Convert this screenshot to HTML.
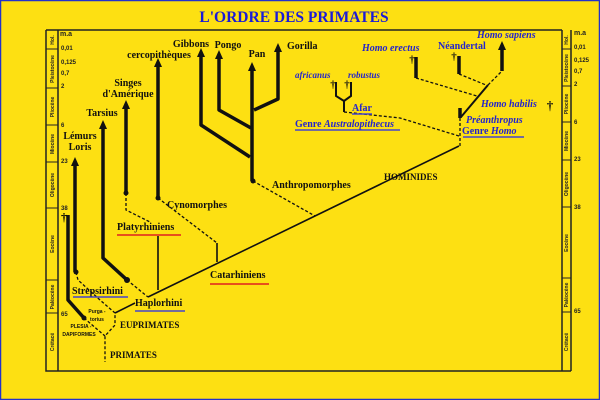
<!DOCTYPE html>
<html><head><meta charset="utf-8"><style>
html,body{margin:0;padding:0;background:#fde012;}
svg{display:block}
</style></head><body>
<svg width="600" height="400" viewBox="0 0 600 400" xmlns="http://www.w3.org/2000/svg" font-family="Liberation Serif, serif">
<rect x="0.5" y="0.5" width="599" height="399" fill="#fde012" stroke="#2233cc" stroke-width="1.5"/>
<text x="294" y="22" text-anchor="middle" font-size="15.5" font-weight="bold" fill="#1a1ad8">L'ORDRE DES PRIMATES</text>
<g stroke="#222" fill="none">
<path d="M46 30 H562 M46 30 V371 H571 M58 30 V371 M562 30 V371 M571 30 V371" stroke-width="1.5"/>
</g>
<g stroke="#222" stroke-width="1">
<path d="M46 49 H58 M46 88 H58 M46 125 H58 M46 162 H58 M46 208 H58 M46 280 H58 M46 313 H58"/>
<path d="M562 49 H571 M562 86 H571 M562 122 H571 M562 160 H571 M562 207 H571 M562 278 H571 M562 312 H571"/>
</g>
<g font-family="Liberation Sans, sans-serif" font-size="5" font-weight="bold" fill="#222">
<text transform="translate(54,40) rotate(-90)" text-anchor="middle">Hol.</text>
<text transform="translate(54,69) rotate(-90)" text-anchor="middle">Pleistocène</text>
<text transform="translate(54,107) rotate(-90)" text-anchor="middle">Pliocène</text>
<text transform="translate(54,144) rotate(-90)" text-anchor="middle">Miocène</text>
<text transform="translate(54,185) rotate(-90)" text-anchor="middle">Oligocène</text>
<text transform="translate(54,244) rotate(-90)" text-anchor="middle">Eocène</text>
<text transform="translate(54,297) rotate(-90)" text-anchor="middle">Paléocène</text>
<text transform="translate(54,342) rotate(-90)" text-anchor="middle">Crétacé</text>
<text transform="translate(568,40) rotate(-90)" text-anchor="middle">Hol.</text>
<text transform="translate(568,68) rotate(-90)" text-anchor="middle">Pleistocène</text>
<text transform="translate(568,104) rotate(-90)" text-anchor="middle">Pliocène</text>
<text transform="translate(568,141) rotate(-90)" text-anchor="middle">Miocène</text>
<text transform="translate(568,184) rotate(-90)" text-anchor="middle">Oligocène</text>
<text transform="translate(568,243) rotate(-90)" text-anchor="middle">Eocène</text>
<text transform="translate(568,295) rotate(-90)" text-anchor="middle">Paléocène</text>
<text transform="translate(568,342) rotate(-90)" text-anchor="middle">Crétacé</text>
</g>
<g font-family="Liberation Sans, sans-serif" font-size="6" font-weight="bold" fill="#222">
<text x="60" y="36" font-size="7">m.a</text>
<text x="61" y="50">0,01</text><text x="61" y="64">0,125</text><text x="61" y="75">0,7</text><text x="61" y="88">2</text>
<text x="61" y="127">6</text><text x="61" y="163">23</text><text x="61" y="210">38</text><text x="61" y="316">65</text>
<text x="574" y="35" font-size="7">m.a</text>
<text x="574" y="49">0,01</text><text x="574" y="62">0,125</text><text x="574" y="73">0,7</text><text x="574" y="86">2</text>
<text x="574" y="124">6</text><text x="574" y="161">23</text><text x="574" y="209">38</text><text x="574" y="313">65</text>
</g>
<g stroke="#111" stroke-width="3.5" fill="none" stroke-linejoin="round">
<path d="M75 164 V272"/>
<path d="M103 127 V258 L127 280"/>
<path d="M126 107 V193"/>
<path d="M158 65 V198"/>
<path d="M201 55 V125 L250 157"/>
<path d="M219 57 V110 L251 128"/>
<path d="M252 69 V181"/>
<path d="M278 50 V99 L254 110"/>
<path d="M68 215 V300 L84 318"/>
<path d="M502 48 V71"/>
<path d="M459 56 V74"/>
<path d="M416 57 V78"/>
<path d="M460 108 V118"/>
</g>
<g fill="#111">
<path d="M75 157 L71 166 H79Z"/><path d="M103 120 L99 129 H107Z"/><path d="M126 100 L122 109 H130Z"/>
<path d="M158 58 L154 67 H162Z"/><path d="M201 48 L197 57 H205Z"/><path d="M219 50 L215 59 H223Z"/>
<path d="M252 62 L248 71 H256Z"/><path d="M278 43 L274 52 H282Z"/><path d="M502 41 L498 50 H506Z"/>
<circle cx="76" cy="272" r="2.5"/><circle cx="127" cy="280" r="3"/><circle cx="126" cy="193" r="2.5"/>
<circle cx="158" cy="198" r="2.5"/><circle cx="253" cy="181" r="2.5"/><circle cx="84" cy="318" r="2.5"/>
</g>
<g stroke="#111" stroke-width="1.6" fill="none">
<path d="M148 297 L315 216 L459 146"/>
<path d="M217 243 V262"/>
<path d="M158 290 V236"/>
<path d="M115 313 L135 303"/>
<path d="M461 117 L488 85" stroke-width="2"/>
<path d="M336 82 V96 L344 101 L351 96 V82 M344 101 V112" stroke-width="2"/>
</g>
<g stroke="#111" stroke-width="1.3" fill="none" stroke-dasharray="3,2">
<path d="M127 280 L148 297"/>
<path d="M253 181 L315 216"/>
<path d="M158 198 L217 243"/>
<path d="M126 193 V210 L150 222"/>
<path d="M76 272 L78 280 L100 300 L115 313 V325 L105 336 V362"/>
<path d="M84 318 L105 336"/>
<path d="M460 118 V146"/>
<path d="M488 85 L502 71"/>
<path d="M459 74 L486 85"/>
<path d="M416 78 L477 96"/>
<path d="M344 112 L400 118 L459 136"/>
</g>
<g font-size="10" font-weight="bold" fill="#111" text-anchor="middle">
<text x="80" y="139">Lémurs</text><text x="80" y="150">Loris</text>
<text x="102" y="116">Tarsius</text>
<text x="128" y="86">Singes</text><text x="128" y="97">d'Amérique</text>
<text x="159" y="58">cercopithèques</text>
<text x="191" y="47">Gibbons</text><text x="228" y="48">Pongo</text><text x="257" y="57">Pan</text>
<text x="287" y="49" text-anchor="start">Gorilla</text>
<text x="272" y="188" text-anchor="start">Anthropomorphes</text>
<text x="167" y="208" text-anchor="start">Cynomorphes</text>
<text x="117" y="230" text-anchor="start">Platyrhiniens</text>
<text x="210" y="278" text-anchor="start">Catarhiniens</text>
<text x="135" y="306" text-anchor="start">Haplorhini</text>
<text x="72" y="294" text-anchor="start">Strepsirhini</text>
<text x="120" y="328" text-anchor="start" font-size="9">EUPRIMATES</text>
<text x="110" y="358" text-anchor="start" font-size="9">PRIMATES</text>
<text x="384" y="180" text-anchor="start" font-size="9">HOMINIDES</text>
</g>
<g font-family="Liberation Sans, sans-serif" font-size="5" font-weight="bold" fill="#111" text-anchor="middle">
<text x="97" y="313">Purga -</text><text x="97" y="321">torius</text>
<text x="81" y="328">PLESIA -</text><text x="79" y="336">DAPIFORMES</text>
</g>
<text x="64" y="221" font-size="12" font-weight="bold" text-anchor="middle">†</text>
<g stroke-width="1.5">
<path d="M117 235 H181" stroke="#e02020"/><path d="M210 284 H269" stroke="#e02020"/>
<path d="M73 297 H128" stroke="#4444cc"/><path d="M135 311 H185" stroke="#4444cc"/>
<path d="M295 130 H400" stroke="#4444cc"/><path d="M463 137 H524" stroke="#4444cc"/>
<path d="M352 114 H372" stroke="#4444cc"/>
</g>
<g font-size="10" font-weight="bold" fill="#2424cc">
<text x="295" y="127">Genre <tspan font-style="italic">Australopithecus</tspan></text>
<text x="352" y="111">Afar</text>
<text x="295" y="78" font-style="italic" font-size="9">africanus</text>
<text x="348" y="78" font-style="italic" font-size="9">robustus</text>
<text x="462" y="134">Genre <tspan font-style="italic">Homo</tspan></text>
<text x="466" y="123" font-style="italic">Préanthropus</text>
<text x="481" y="107" font-style="italic">Homo habilis</text>
<text x="438" y="49">Néandertal</text>
<text x="362" y="51" font-style="italic">Homo erectus</text>
<text x="477" y="38" font-style="italic">Homo sapiens</text>
</g>
<g font-size="11" font-weight="bold" fill="#111" text-anchor="middle">
<text x="333" y="88">†</text><text x="347" y="88">†</text><text x="412" y="63">†</text><text x="454" y="60">†</text>
<text x="550" y="110" font-size="13">†</text>
</g>
</svg>
</body></html>
